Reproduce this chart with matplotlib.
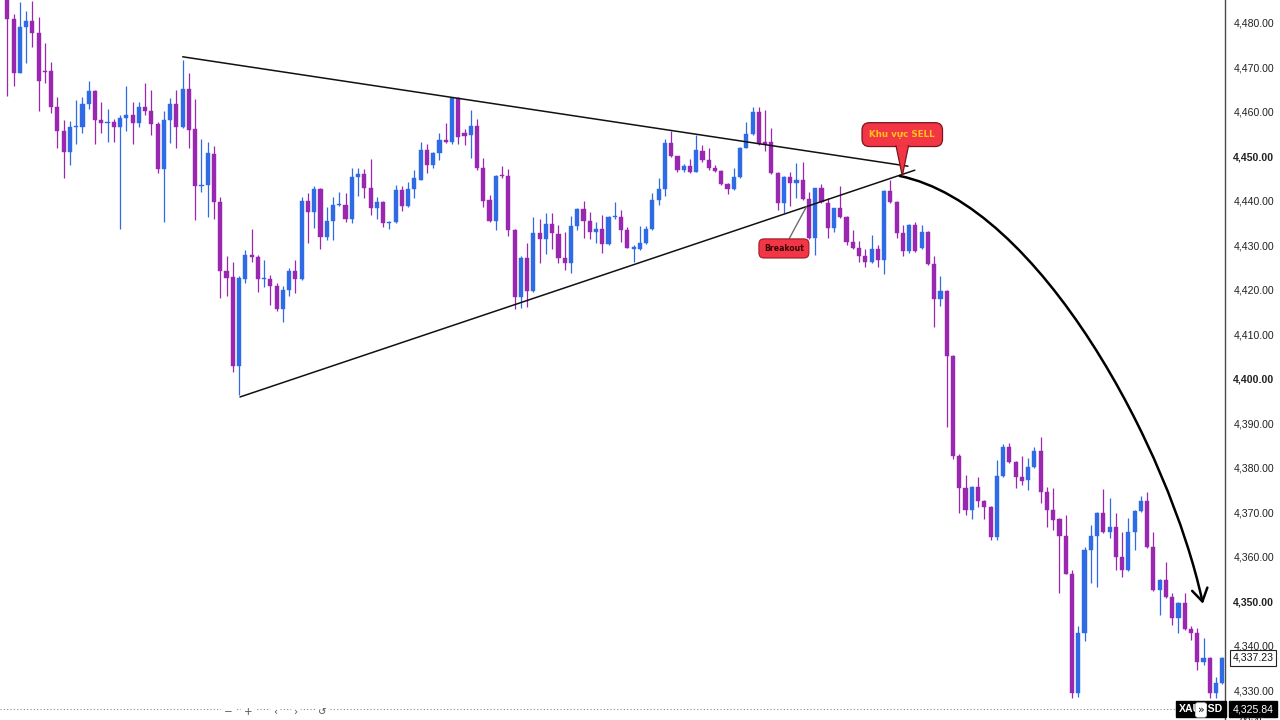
import matplotlib.pyplot as plt
import numpy as np
from matplotlib.path import Path
from matplotlib.patches import FancyArrowPatch, Polygon

# OHLC values (one entry per candle, left to right)
opens = [4488.0, 4480.9, 4468.8, 4479.0, 4480.4, 4477.7, 4469.3, 4469.1, 4461.0, 4455.8,
         4451.0, 4456.5, 4456.7, 4461.7, 4464.7, 4458.2, 4457.5, 4457.8, 4456.5, 4458.6,
         4459.3, 4457.4, 4461.0, 4460.2, 4457.2, 4447.1, 4458.2, 4461.7, 4456.5, 4465.1,
         4456.1, 4443.3, 4443.6, 4450.5, 4439.8, 4424.3, 4422.8, 4402.9, 4422.4, 4427.8,
         4427.3, 4422.4, 4422.4, 4420.9, 4415.6, 4420.0, 4424.3, 4422.4, 4440.0, 4437.4,
         4442.6, 4431.8, 4435.5, 4439.0, 4439.1, 4435.9, 4445.3, 4446.0, 4443.0, 4438.5,
         4439.8, 4435.0, 4435.3, 4442.4, 4438.9, 4442.6, 4444.8, 4451.4, 4448.1, 4450.7,
         4453.7, 4453.3, 4463.1, 4455.2, 4454.8, 4456.8, 4447.3, 4440.2, 4435.5, 4445.7,
         4445.6, 4433.5, 4418.3, 4427.2, 4419.8, 4432.7, 4431.4, 4434.8, 4432.5, 4427.1,
         4426.0, 4434.4, 4438.1, 4435.5, 4433.1, 4433.6, 4430.2, 4436.3, 4436.3, 4433.5,
         4429.2, 4429.1, 4430.6, 4433.6, 4440.2, 4442.6, 4453.1, 4450.0, 4446.9, 4447.8,
         4446.6, 4451.3, 4449.3, 4447.3, 4446.8, 4443.8, 4442.6, 4445.3, 4452.0, 4455.0,
         4459.9, 4453.3, 4453.3, 4446.2, 4439.6, 4445.3, 4444.1, 4444.7, 4440.4, 4431.6,
         4442.8, 4439.5, 4433.8, 4438.3, 4436.4, 4430.8, 4429.3, 4427.5, 4426.3, 4429.1,
         4426.6, 4442.3, 4439.8, 4432.7, 4428.8, 4434.6, 4429.3, 4433.1, 4425.8, 4417.9,
         4419.8, 4405.2, 4382.7, 4375.4, 4370.5, 4375.7, 4372.5, 4371.2, 4364.5, 4378.1,
         4384.6, 4381.3, 4378.0, 4377.2, 4380.1, 4383.8, 4374.5, 4370.5, 4368.4, 4364.6,
         4356.1, 4329.3, 4342.8, 4361.6, 4364.6, 4369.9, 4365.6, 4366.7, 4360.0, 4357.0,
         4365.6, 4370.3, 4372.6, 4362.2, 4352.5, 4354.7, 4351.0, 4346.1, 4349.6, 4343.7,
         4342.8, 4336.4, 4337.3, 4329.3, 4331.5]
highs = [4491.0, 4482.0, 4484.8, 4482.7, 4485.0, 4481.4, 4475.6, 4471.3, 4463.3, 4458.2,
         4458.0, 4462.7, 4463.3, 4467.0, 4464.9, 4462.3, 4460.6, 4458.4, 4459.3, 4465.8,
         4462.3, 4462.3, 4466.6, 4464.9, 4457.8, 4460.2, 4463.2, 4464.9, 4471.7, 4468.8,
         4462.8, 4453.8, 4453.3, 4452.3, 4440.9, 4427.5, 4426.3, 4423.0, 4429.0, 4433.6,
         4427.8, 4426.7, 4423.4, 4421.5, 4420.9, 4424.8, 4426.7, 4440.9, 4441.8, 4443.3,
         4442.8, 4438.7, 4440.9, 4442.1, 4441.7, 4447.5, 4447.3, 4447.1, 4449.4, 4440.8,
         4440.0, 4435.5, 4443.6, 4443.3, 4444.3, 4446.9, 4453.3, 4452.9, 4451.0, 4455.2,
         4457.4, 4463.4, 4463.4, 4456.1, 4460.4, 4458.3, 4449.6, 4441.3, 4445.8, 4447.8,
         4447.1, 4433.7, 4427.7, 4430.6, 4436.4, 4435.9, 4437.3, 4437.3, 4434.6, 4433.1,
         4436.6, 4438.3, 4440.0, 4437.6, 4435.3, 4436.8, 4436.6, 4439.8, 4438.0, 4434.2,
         4430.0, 4434.4, 4434.4, 4441.7, 4445.1, 4453.8, 4455.8, 4450.2, 4448.4, 4449.4,
         4454.8, 4452.6, 4452.0, 4448.1, 4447.0, 4444.0, 4447.3, 4452.2, 4457.8, 4461.2,
         4461.2, 4460.5, 4456.3, 4446.4, 4445.5, 4446.6, 4448.5, 4448.8, 4442.0, 4443.0,
         4443.9, 4440.6, 4438.5, 4443.3, 4436.6, 4433.5, 4431.0, 4429.1, 4432.3, 4430.1,
         4442.5, 4444.8, 4440.0, 4434.6, 4434.8, 4435.2, 4434.6, 4433.3, 4427.5, 4423.1,
         4420.0, 4405.4, 4383.0, 4378.4, 4375.9, 4377.8, 4372.7, 4371.4, 4381.7, 4385.3,
         4385.6, 4381.5, 4382.6, 4382.1, 4384.6, 4387.0, 4375.7, 4375.4, 4368.6, 4369.4,
         4357.0, 4344.3, 4362.2, 4367.1, 4370.1, 4375.1, 4373.1, 4369.9, 4365.6, 4368.6,
         4370.5, 4373.6, 4374.6, 4365.6, 4354.9, 4358.9, 4351.8, 4349.8, 4351.8, 4344.3,
         4344.0, 4341.6, 4337.5, 4333.0, 4337.4]
lows = [4463.6, 4465.8, 4468.8, 4470.9, 4474.7, 4460.2, 4466.4, 4459.7, 4451.8, 4445.2,
        4448.1, 4452.8, 4455.2, 4460.6, 4452.8, 4455.2, 4453.3, 4453.3, 4433.7, 4455.8,
        4452.8, 4456.7, 4459.3, 4454.8, 4446.2, 4435.3, 4453.0, 4451.8, 4456.3, 4451.8,
        4435.7, 4442.1, 4436.4, 4435.9, 4418.1, 4418.5, 4401.6, 4396.3, 4421.6, 4426.3,
        4419.6, 4420.7, 4416.6, 4415.3, 4412.8, 4418.5, 4419.2, 4422.2, 4430.5, 4433.8,
        4429.1, 4431.2, 4431.2, 4438.9, 4435.3, 4435.0, 4441.1, 4440.6, 4436.8, 4435.9,
        4434.2, 4433.6, 4435.0, 4437.8, 4438.7, 4440.6, 4444.7, 4446.3, 4447.5, 4449.3,
        4453.0, 4452.8, 4452.8, 4452.6, 4449.6, 4447.0, 4438.6, 4435.3, 4433.5, 4445.2,
        4432.0, 4415.6, 4415.8, 4416.2, 4419.6, 4426.0, 4428.0, 4429.1, 4426.1, 4424.5,
        4423.7, 4433.5, 4431.6, 4431.4, 4430.5, 4428.2, 4430.0, 4436.0, 4430.8, 4429.3,
        4426.3, 4428.9, 4430.4, 4433.4, 4439.1, 4441.1, 4449.8, 4446.6, 4446.6, 4446.3,
        4446.4, 4448.8, 4447.0, 4446.5, 4443.6, 4441.5, 4442.4, 4445.1, 4451.8, 4454.8,
        4452.6, 4451.3, 4446.0, 4438.0, 4437.2, 4438.8, 4440.6, 4440.2, 4431.4, 4427.8,
        4439.6, 4431.6, 4433.1, 4436.2, 4430.1, 4429.1, 4426.3, 4425.2, 4426.1, 4425.2,
        4423.6, 4439.6, 4431.6, 4427.6, 4428.2, 4428.6, 4429.1, 4425.6, 4411.7, 4416.4,
        4389.2, 4381.9, 4369.7, 4369.4, 4368.4, 4371.2, 4368.4, 4363.8, 4363.8, 4377.9,
        4381.1, 4375.4, 4376.1, 4375.0, 4379.9, 4372.1, 4366.6, 4365.9, 4351.8, 4356.0,
        4328.1, 4328.5, 4341.1, 4354.0, 4353.2, 4365.4, 4364.1, 4357.0, 4355.5, 4356.8,
        4361.6, 4370.1, 4362.0, 4352.3, 4346.9, 4350.8, 4344.6, 4342.8, 4343.5, 4341.3,
        4334.5, 4335.6, 4328.1, 4328.1, 4331.3]
closes = [4480.9, 4468.8, 4479.0, 4480.4, 4477.7, 4467.0, 4469.0, 4461.0, 4455.8, 4451.0,
          4456.5, 4456.9, 4461.7, 4464.8, 4458.2, 4457.4, 4457.7, 4456.5, 4458.6, 4459.3,
          4457.4, 4461.0, 4460.3, 4457.2, 4447.1, 4458.2, 4461.7, 4456.5, 4465.1, 4456.0,
          4443.4, 4443.6, 4450.7, 4439.8, 4424.3, 4422.6, 4402.9, 4422.6, 4427.8, 4427.3,
          4422.4, 4422.5, 4420.9, 4415.6, 4420.0, 4424.3, 4422.4, 4440.0, 4437.4, 4442.6,
          4431.8, 4435.5, 4439.1, 4439.2, 4435.9, 4445.3, 4446.0, 4443.0, 4438.5, 4439.8,
          4435.0, 4435.3, 4442.4, 4438.9, 4442.7, 4445.1, 4451.4, 4448.1, 4450.7, 4453.7,
          4453.3, 4463.1, 4454.4, 4454.6, 4456.8, 4447.3, 4440.0, 4435.5, 4445.6, 4445.5,
          4433.5, 4418.3, 4427.2, 4419.8, 4432.7, 4431.4, 4434.8, 4432.7, 4427.1, 4426.0,
          4434.4, 4438.1, 4435.5, 4433.1, 4433.6, 4430.2, 4436.4, 4436.4, 4433.5, 4429.5,
          4429.6, 4430.6, 4433.6, 4440.2, 4442.6, 4453.1, 4450.0, 4446.9, 4447.8, 4446.6,
          4451.4, 4449.3, 4447.3, 4446.8, 4443.8, 4442.6, 4445.3, 4452.0, 4455.0, 4459.9,
          4452.9, 4452.9, 4446.2, 4439.6, 4445.3, 4444.1, 4444.6, 4440.4, 4431.6, 4442.8,
          4439.8, 4433.8, 4438.3, 4436.4, 4430.8, 4429.3, 4427.6, 4426.3, 4429.1, 4426.6,
          4442.3, 4439.8, 4432.7, 4428.8, 4434.6, 4428.8, 4433.1, 4425.8, 4417.9, 4419.8,
          4405.2, 4382.7, 4375.4, 4370.5, 4375.7, 4372.4, 4371.2, 4364.5, 4378.2, 4384.7,
          4381.3, 4378.0, 4376.9, 4380.1, 4383.8, 4374.5, 4370.5, 4368.2, 4364.6, 4356.1,
          4329.3, 4342.8, 4361.6, 4364.6, 4369.9, 4365.6, 4366.7, 4360.0, 4357.0, 4365.6,
          4370.3, 4372.6, 4362.2, 4352.5, 4354.7, 4351.0, 4346.1, 4349.6, 4343.7, 4342.8,
          4336.4, 4337.3, 4329.3, 4331.5, 4337.2]

y_ticks = list(range(4330, 4481, 10))
last_price = 4337.23
bid_price = 4325.84

# drawings on the chart (candle index, price)
upper_line = [(28.0, 4472.4), (143.8, 4447.8)]
lower_line = [(37.15, 4395.9), (144.9, 4446.9)]
breakout_box = (124.0, 4429.3)
breakout_point = (127.6, 4438.7)
sell_box = (142.9, 4454.9)
sell_pointer = [(141.9, 4452.4), (143.9, 4452.4), (142.9, 4445.6)]
curve_pts = [(142.5, 4445.6), (164.9, 4439.1), (185.6, 4384.0), (190.9, 4349.4)]

blue = '#2f6be4'
purple = '#9a27b0'

fig = plt.figure(figsize=(12.8, 7.2), dpi=100)
ax = fig.add_axes([0, 0, 1225 / 1280, 1])

o = np.array(opens)
h = np.array(highs)
l = np.array(lows)
c = np.array(closes)
x = np.arange(len(o))
colors = [blue if cc >= oo else purple for oo, cc in zip(o, c)]

# wicks and bodies
ax.vlines(x, l, h, colors=colors, lw=0.9, zorder=2)
body_h = np.maximum(np.abs(c - o), 0.3)
ax.bar(x, body_h, bottom=np.minimum(o, c), width=0.66, color=colors,
       edgecolor=colors, lw=0.3, zorder=3)

ax.set_xlim(-1.17, 194.43)
ax.set_ylim(4323.26, 4485.17)

# dotted bid line
ax.axhline(bid_price, color='#8a8a8a', lw=0.8, ls=(0, (1, 2)), zorder=1)

# triangle trendlines
for line in (upper_line, lower_line):
    ax.plot([line[0][0], line[1][0]], [line[0][1], line[1][1]],
            color='#111111', lw=1.1, zorder=5, solid_capstyle='round')

# breakout label
ax.annotate('Breakout', xy=breakout_point, xytext=breakout_box,
            ha='center', va='center', fontsize=5.6, fontweight='bold', color='#3a0505',
            bbox=dict(boxstyle='round,pad=0.65', fc='#f23645', ec='#9e1b2a', lw=0.8),
            arrowprops=dict(arrowstyle='-', color='#6e6e6e', lw=1.0, shrinkA=0, shrinkB=0),
            zorder=7)

# sell zone callout
ax.text(sell_box[0], sell_box[1], 'Khu vực SELL', ha='center', va='center',
        fontsize=6.3, fontweight='bold', color='#ffc21a', zorder=8,
        bbox=dict(boxstyle='round,pad=0.85', fc='#f23645', ec='#7a1420', lw=0.9))
ax.add_patch(Polygon(sell_pointer, closed=True, fc='#f23645', ec='none', zorder=9))
ax.plot([sell_pointer[0][0], sell_pointer[2][0], sell_pointer[1][0]],
        [sell_pointer[0][1], sell_pointer[2][1], sell_pointer[1][1]],
        color='#7a1420', lw=0.9, zorder=9)

# curved arrow towards the target
curve = Path(curve_pts, [Path.MOVETO, Path.CURVE4, Path.CURVE4, Path.CURVE4])
arrow = FancyArrowPatch(path=curve, arrowstyle='->,head_length=0.45,head_width=0.28',
                        mutation_scale=20, color='black', lw=1.8, zorder=6)
ax.add_patch(arrow)

# right price scale
for side in ['left', 'top', 'bottom']:
    ax.spines[side].set_visible(False)
ax.spines['right'].set_color('#4a4a4a')
ax.spines['right'].set_linewidth(1.0)
ax.yaxis.tick_right()
ax.set_yticks(y_ticks)
ax.set_yticklabels(['{:,.2f}'.format(v) for v in y_ticks])
ax.tick_params(axis='y', length=0, pad=6, labelsize=7.6, labelcolor='#222222')
for lab, v in zip(ax.get_yticklabels(), y_ticks):
    lab.set_family('Liberation Sans')
    if v % 50 == 0:
        lab.set_fontweight('bold')
ax.set_xticks([])

# price tags on the scale
fig.text(1253 / 1280, 1 - 658 / 720, '{:,.2f}'.format(last_price), ha='center', va='center',
         fontsize=7.6, family='Liberation Sans', color='#111111',
         bbox=dict(boxstyle='square,pad=0.25', fc='white', ec='#222222', lw=0.8))
fig.text(1253 / 1280, 1 - 709 / 720, '{:,.2f}'.format(bid_price), ha='center', va='center',
         fontsize=7.6, family='Liberation Sans', color='white',
         bbox=dict(boxstyle='square,pad=0.3', fc='black', ec='black'))
fig.text(1201 / 1280, 1 - 709 / 720, 'XAUUSD', ha='center', va='center',
         fontsize=7.6, family='Liberation Sans', fontweight='bold', color='white',
         bbox=dict(boxstyle='square,pad=0.3', fc='black', ec='black'))
fig.text(1201 / 1280, 1 - 710 / 720, '»', ha='center', va='center', fontsize=8,
         color='#111111', bbox=dict(boxstyle='round,pad=0.2', fc='white', ec='#cccccc', lw=0.5))
fig.text(1240 / 1280, 1 - 717 / 720, '00:45', ha='left', va='top',
         fontsize=7.6, family='Liberation Sans', color='#222222')

# chart toolbar at the bottom
for px, sym in zip([228, 248, 275, 296, 322], ['−', '+', '‹', '›', '↺']):
    fig.text(px / 1280, 1 - 712 / 720, sym, ha='center', va='center', fontsize=7.5,
             color='#555555', bbox=dict(boxstyle='round,pad=0.25', fc='white', ec='none'))

plt.savefig('out.png', dpi=100)
